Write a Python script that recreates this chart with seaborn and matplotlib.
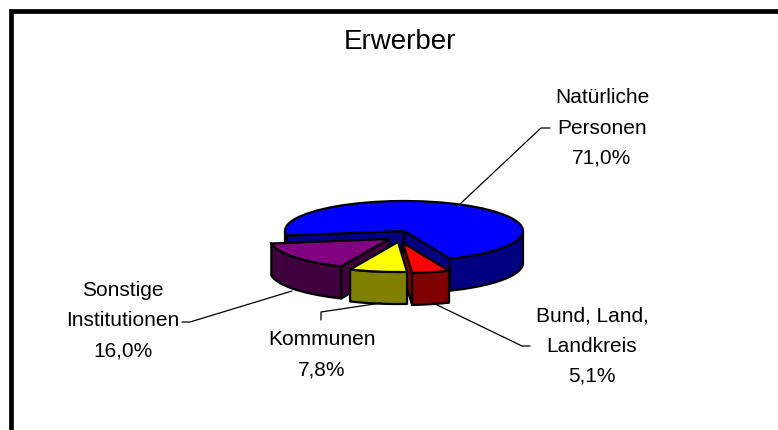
import numpy as np
import seaborn as sns
import matplotlib.pyplot as plt

names = ["Natürliche\nPersonen", "Bund, Land,\nLandkreis", "Kommunen", "Sonstige\nInstitutionen"]
shares = [71.0, 5.1, 7.8, 16.0]
top_colors = ["#0000ff", "#ff0000", "#ffff00", "#800080"]
side_colors = ["#000080", "#800000", "#808000", "#400040"]

# layout in reference pixels
W, H = 778, 430
CX, CY = 404, 231
RX, RY = 119, 30
DEPTH = 32
START = 188.6
# pixel shift of each slice (x right, y down)
shift_x = [0, -1, -6, -15]
shift_y = [0, 12, 11, 8]
draw_order = [0, 3, 1, 2]

label_pos = [(602, 128), (592, 346), (322, 355), (123, 321)]
leaders = [
    ([459, 541, 550], [205, 128, 128]),
    ([433, 522, 530], [303, 346, 346]),
    ([321, 321, 381], [320, 312, 303]),
    ([292, 190, 182], [291, 322, 322]),
]

sns.set_theme(style="white")
plt.rcParams["font.family"] = ["Liberation Sans", "DejaVu Sans"]

fig = plt.figure(figsize=(W / 100, H / 100), dpi=100, facecolor="white")
ax = fig.add_axes([0, 0, 1, 1])
wedges, _ = ax.pie(shares, colors=sns.color_palette(top_colors), startangle=START, counterclock=False,
                   wedgeprops={"edgecolor": "black", "linewidth": 1.6})
ax.set_aspect("auto")
ax.set_xlim(-CX / RX, (W - CX) / RX)
ax.set_ylim((CY - H) / RY, CY / RY)
ax.axis("off")
depth = DEPTH / RY


def face(xs, ys, color, z):
    xs = list(xs) + list(xs)[::-1]
    ys = list(ys) + [y - depth for y in list(ys)[::-1]]
    ax.fill(xs, ys, facecolor=color, edgecolor="black", linewidth=1.6, joinstyle="round", zorder=z)


for rank, i in enumerate(draw_order):
    w = wedges[i]
    z = 10 * (rank + 1)
    x0, y0 = shift_x[i] / RX, -shift_y[i] / RY
    w.set_center((x0, y0))
    w.set_zorder(z + 2)
    t1, t2 = w.theta1, w.theta2

    # flat cut faces, only those turned towards the viewer
    for t, normal in ((t1, t1 - 90), (t2, t2 + 90)):
        if np.sin(np.radians(normal)) < 0:
            a = np.radians(t)
            face([x0, x0 + np.cos(a)], [y0, y0 + np.sin(a)], side_colors[i], z)

    # outer rim, front half of the circle only
    for k in (0, 1):
        lo, hi = max(t1, -180 + 360 * k), min(t2, 360 * k)
        if lo < hi:
            a = np.radians(np.linspace(lo, hi, 60))
            face(x0 + np.cos(a), y0 + np.sin(a), side_colors[i], z + 1)

# overlay in pixel coordinates for frame and labels
ov = fig.add_axes([0, 0, 1, 1], facecolor="none")
ov.set_xlim(0, W)
ov.set_ylim(H, 0)
ov.axis("off")
ov.plot([11.5, 11.5, W + 5], [H + 5, 10.5, 10.5], color="black", linewidth=3.4, solid_joinstyle="miter")
ov.text(400, 42, "Erwerber", ha="center", va="center", fontsize=20, color="black")

for name, share, pos, (lx, ly) in zip(names, shares, label_pos, leaders):
    value = f"{share:.1f}%".replace(".", ",")
    ov.text(pos[0], pos[1], f"{name}\n{value}", ha="center", va="center", fontsize=15,
            linespacing=1.75, color="black")
    ov.plot(lx, ly, color="black", linewidth=0.9, zorder=1)

fig.savefig("out.png", dpi=100)
